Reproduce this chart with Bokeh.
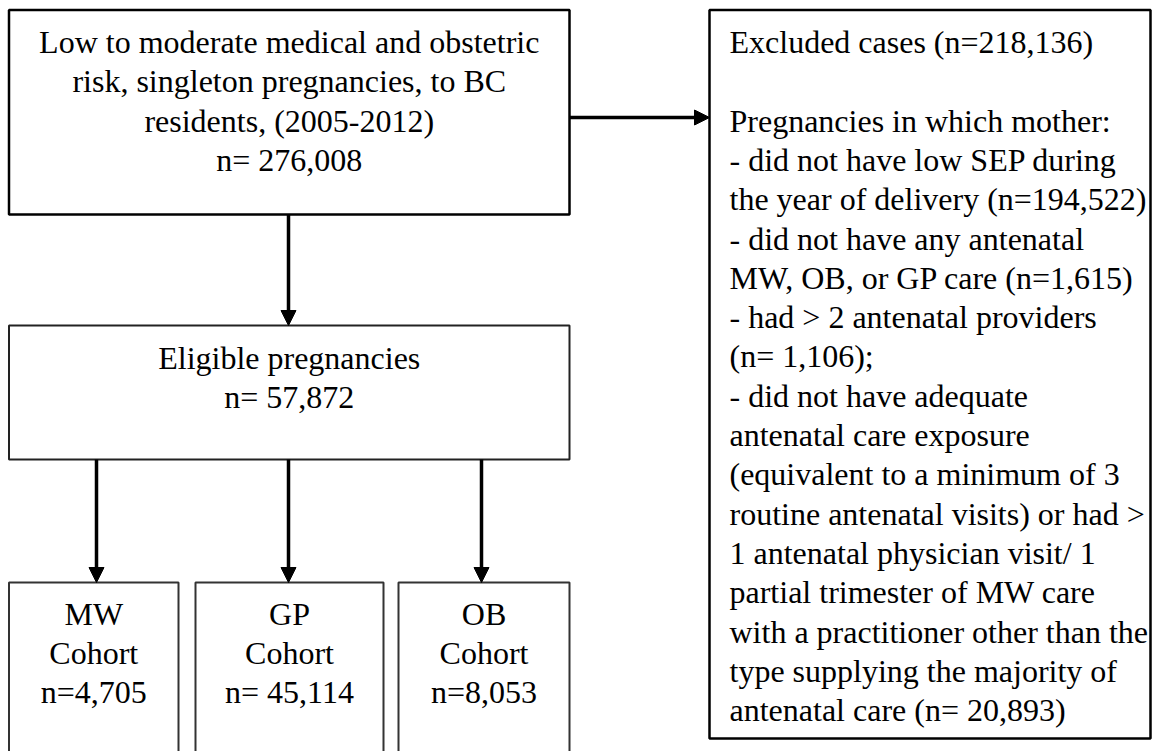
from bokeh.plotting import figure
from bokeh.models import Range1d, Arrow, NormalHead, ColumnDataSource
from bokeh.core.properties import value
from bokeh.embed import file_html
from bokeh.resources import INLINE

# ---- content ----
source_lines = ["Low to moderate medical and obstetric",
                "risk, singleton pregnancies, to BC",
                "residents, (2005-2012)",
                "n= 276,008"]
eligible_lines = ["Eligible pregnancies", "n= 57,872"]
cohort_names = ["MW", "GP", "OB"]
cohort_word = ["Cohort", "Cohort", "Cohort"]
cohort_n = ["n=4,705", "n= 45,114", "n=8,053"]
excluded_lines = ["Excluded cases (n=218,136)",
                  "",
                  "Pregnancies in which mother:",
                  "- did not have low SEP during",
                  "the year of delivery (n=194,522)",
                  "- did not have any antenatal",
                  "MW, OB, or GP care (n=1,615)",
                  "- had > 2 antenatal providers",
                  "(n= 1,106);",
                  "- did not have adequate",
                  "antenatal care exposure",
                  "(equivalent to a minimum of 3",
                  "routine antenatal visits) or had >",
                  "1 antenatal physician visit/ 1",
                  "partial trimester of MW care",
                  "with a practitioner other than the",
                  "type supplying the majority of",
                  "antenatal care (n= 20,893)"]

# ---- layout (image pixel coordinates) ----
W, H = 1157, 751
FONT = value("Liberation Serif")
FS = "32px"
LH = 39.3

p = figure(width=W, height=H, output_backend="svg", toolbar_location=None,
           x_range=Range1d(0, W), y_range=Range1d(H, 0),
           min_border=0, outline_line_color=None)
p.axis.visible = False
p.grid.visible = False
p.background_fill_color = "white"
p.border_fill_color = "white"

# boxes
b1 = dict(l=8.5, r=569, t=9.5, b=214)
b2 = dict(l=8.5, r=569, t=325, b=459)
bx = dict(l=709, r=1150, t=9.5, b=738)
cohort_l = [8.5, 195, 398]
cohort_r = [178, 383, 569]
cohort_t = 582
cohort_b = 800

p.quad(left=[b1["l"]], right=[b1["r"]], top=[b1["t"]], bottom=[b1["b"]],
       fill_color=None, line_color="black", line_width=2.5)
p.quad(left=[b2["l"]], right=[b2["r"]], top=[b2["t"]], bottom=[b2["b"]],
       fill_color=None, line_color="#222222", line_width=2)
p.quad(left=[bx["l"]], right=[bx["r"]], top=[bx["t"]], bottom=[bx["b"]],
       fill_color=None, line_color="black", line_width=2.5)
p.quad(left=cohort_l, right=cohort_r, top=[cohort_t] * 3, bottom=[cohort_b] * 3,
       fill_color=None, line_color="#333333", line_width=2)

# texts
def centered(lines, xc, y0):
    src = ColumnDataSource(dict(x=[xc] * len(lines),
                                y=[y0 + i * LH for i in range(len(lines))],
                                t=lines))
    p.text(x="x", y="y", text="t", source=src, text_font=FONT, text_font_size=FS,
           text_align="center", text_baseline="middle", text_color="black")

c1 = (b1["l"] + b1["r"]) / 2
centered(source_lines, c1, b1["t"] + 32)
centered(eligible_lines, c1, b2["t"] + 32)
for i in range(3):
    xc = (cohort_l[i] + cohort_r[i]) / 2
    centered([cohort_names[i], cohort_word[i], cohort_n[i]], xc, cohort_t + 31)

src = ColumnDataSource(dict(x=[bx["l"] + 20] * len(excluded_lines),
                            y=[bx["t"] + 32 + i * LH for i in range(len(excluded_lines))],
                            t=excluded_lines))
p.text(x="x", y="y", text="t", source=src, text_font=FONT, text_font_size=FS,
       text_align="left", text_baseline="middle", text_color="black")

# arrows
def arrow(x0, y0, x1, y1):
    p.add_layout(Arrow(end=NormalHead(size=15, fill_color="black", line_color="black"),
                       x_start=x0, y_start=y0, x_end=x1, y_end=y1,
                       line_width=3.5, line_color="black"))

arrow(288, b1["b"], 288, b2["t"])
arrow(b1["r"], 117, bx["l"], 117)
for xa in [96, 288, 481]:
    arrow(xa, b2["b"], xa, cohort_t)

open("out.html", "w").write(file_html(p, INLINE))
